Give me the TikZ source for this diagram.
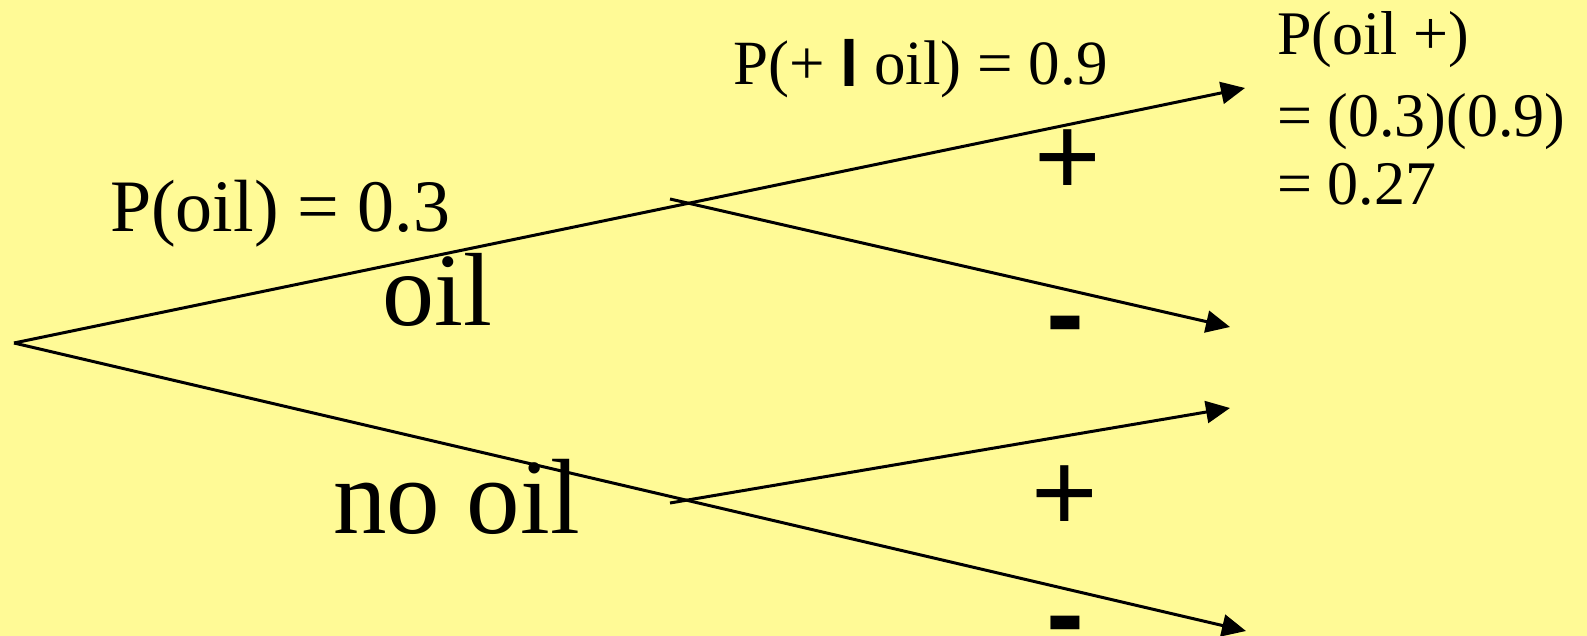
\documentclass[tikz,border=0pt]{standalone}
\usepackage{fontspec}
\setmainfont{Liberation Serif}
\setsansfont{Liberation Sans}
\usetikzlibrary{arrows.meta}
\definecolor{bgyellow}{RGB}{255,250,150}
\tikzset{
  branch/.style={line width=3pt, -{Triangle[length=24pt,width=22pt]}},
  lbl/.style={inner sep=0pt, anchor=base west, font=\fontsize{62}{62}\selectfont},
  big/.style={inner sep=0pt, anchor=base west, font=\fontsize{105}{105}\selectfont},
  sign/.style={inner sep=0pt, anchor=base, font=\sffamily\fontsize{114}{114}\selectfont}
}
\begin{document}
\begin{tikzpicture}[x=1pt,y=-1pt]
\fill[bgyellow] (0,0) rectangle (1587,636);
\useasboundingbox (0,0) rectangle (1587,636);
% points
\coordinate (root) at (14,343);
\coordinate (s1) at (670,199);
\coordinate (s2) at (670,503);
\coordinate (e1) at (1245,88);
\coordinate (e2) at (1230,327);
\coordinate (e3) at (1230,408);
\coordinate (e4) at (1246,631);
% connectors
\draw[branch] (root) -- (e1);
\draw[branch] (root) -- (e4);
\draw[branch] (s1) -- (e2);
\draw[branch] (s2) -- (e3);
% labels
\node[lbl, font=\fontsize{74}{74}\selectfont] (poil) at (110,232) {P(oil) = 0.3};
\node[lbl, font=\fontsize{63}{63}\selectfont] (pcond) at (733,85) {P(+ \raisebox{-2pt}{\sffamily\bfseries\fontsize{65}{65}\selectfont l} oil) = 0.9};
\node[big, font=\fontsize{104}{104}\selectfont] (oil) at (382,325) {oil};
\node[big, font=\fontsize{107}{107}\selectfont] (nooil) at (333,533) {no oil};
\node[sign] (plus1) at (1068,196) {+};
\node[sign, font=\sffamily\bfseries\fontsize{114}{114}\selectfont] (minus1) at (1065,352) {-};
\node[sign] (plus2) at (1065,531) {+};
\node[sign, font=\sffamily\bfseries\fontsize{114}{114}\selectfont] (minus2) at (1065,652) {-};
\node[lbl] (r1) at (1277,55) {P(oil +)};
\node[lbl] (r2) at (1277,137) {= (0.3)(0.9)};
\node[lbl] (r3) at (1277,205) {= 0.27};
\end{tikzpicture}
\end{document}
